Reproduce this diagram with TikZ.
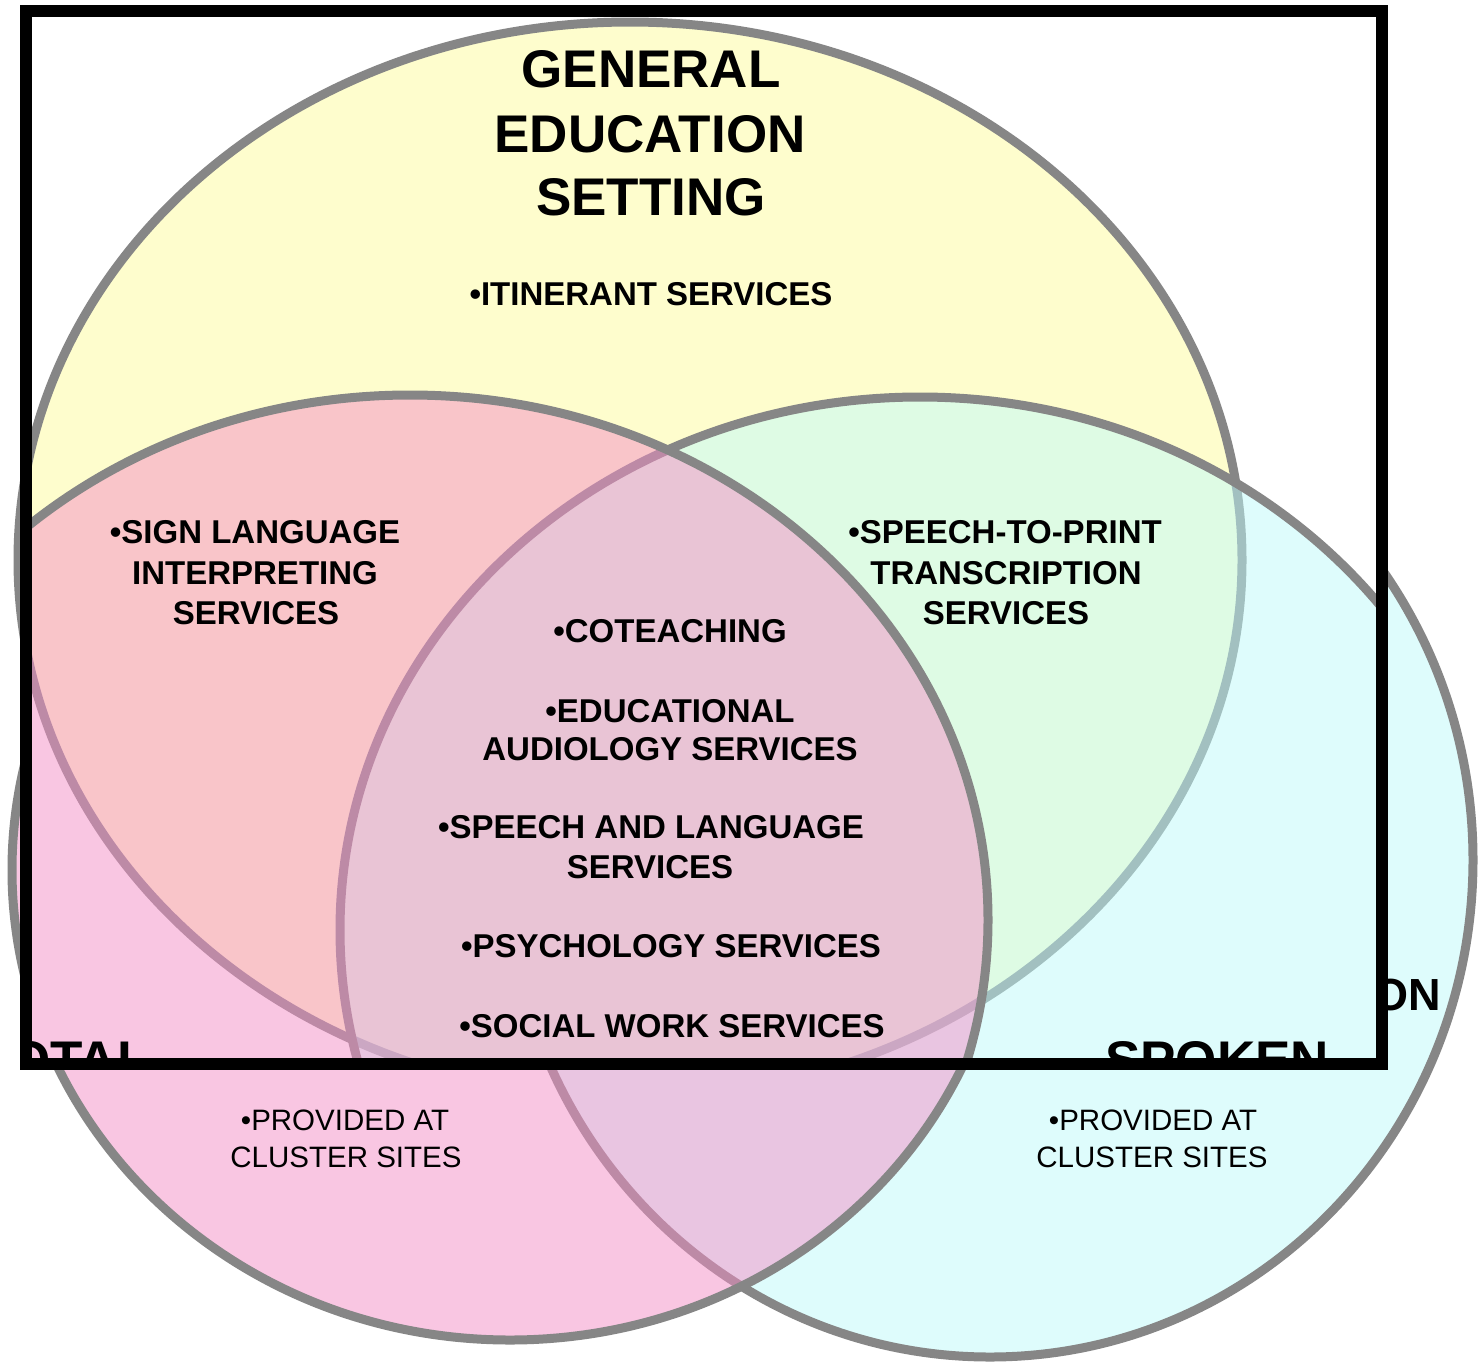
\documentclass[tikz,border=0pt]{standalone}
\usepackage{fontspec}
\setmainfont{Liberation Sans}
\definecolor{outl}{RGB}{134,134,134}
\definecolor{yel}{RGB}{254,253,205}
\definecolor{cyb}{RGB}{191,251,251}
\definecolor{pkb}{RGB}{245,143,199}
\tikzset{
  venn/.style={draw=outl, line width=9pt},
  yelset/.style={venn, fill=yel},
  cyanset/.style={venn, fill=cyb, fill opacity=0.5},
  pinkset/.style={venn, fill=pkb, fill opacity=0.5},
  titletext/.style={inner sep=0pt, anchor=base, font=\fontsize{53}{60}\selectfont\bfseries},
  itemtext/.style={inner sep=0pt, anchor=base, font=\fontsize{33}{40}\selectfont\bfseries},
  smalltext/.style={inner sep=0pt, anchor=base, font=\fontsize{29.5}{35}\selectfont},
  frameline/.style={draw=black, line width=12pt}
}
\begin{document}
\begin{tikzpicture}[x=1pt,y=-1pt]
\useasboundingbox (0,0) rectangle (1480,1361);
\fill[white] (0,0) rectangle (1480,1361);
% ---------- outer layer ----------
\path[cyanset] (990,860) ellipse [x radius=483pt, y radius=497pt];
\path[pinkset] (510,870) ellipse [x radius=498pt, y radius=470pt];
\node[smalltext] (pl1) at (345,1130) {•PROVIDED AT};
\node[smalltext] (pl2) at (346,1167) {CLUSTER SITES};
\node[smalltext] (pr1) at (1153,1130) {•PROVIDED AT};
\node[smalltext] (pr2) at (1152,1167) {CLUSTER SITES};
\node[inner sep=0pt, anchor=base east, font=\fontsize{45}{50}\selectfont\bfseries] (on) at (1441,1010) {ON};
% ---------- inner layer ----------
\begin{scope}
\clip (26,11) rectangle (1382,1064);
\fill[white] (26,11) rectangle (1382,1064);
\path[yelset] (630,560) ellipse [x radius=612pt, y radius=538pt];
\path[cyanset] (920,930) ellipse [x radius=580pt, y radius=533pt];
\path[pinkset] (410,920) ellipse [x radius=578pt, y radius=525pt];
\node[titletext] (t1) at (651,87) {GENERAL};
\node[titletext] (t2) at (650,152) {EDUCATION};
\node[titletext] (t3) at (651,215) {SETTING};
\node[itemtext] (itin) at (651,305) {•ITINERANT SERVICES};
\node[itemtext] (sl1) at (255,543) {•SIGN LANGUAGE};
\node[itemtext] (sl2) at (255,584) {INTERPRETING};
\node[itemtext] (sl3) at (256,624) {SERVICES};
\node[itemtext] (sp1) at (1005,543) {•SPEECH-TO-PRINT};
\node[itemtext] (sp2) at (1006,584) {TRANSCRIPTION};
\node[itemtext] (sp3) at (1006,624) {SERVICES};
\node[itemtext] (co) at (670,642) {•COTEACHING};
\node[itemtext] (ed1) at (670,722) {•EDUCATIONAL};
\node[itemtext] (ed2) at (670,760) {AUDIOLOGY SERVICES};
\node[itemtext] (sa1) at (651,838) {•SPEECH AND LANGUAGE};
\node[itemtext] (sa2) at (650,878) {SERVICES};
\node[itemtext] (ps) at (671,957) {•PSYCHOLOGY SERVICES};
\node[itemtext] (sw) at (672,1037) {•SOCIAL WORK SERVICES};
\node[titletext, anchor=base west] (tot) at (9,1078) {OTAL};
\node[titletext, anchor=base west] (spk) at (1105,1078) {SPOKEN};
\end{scope}
% yellow outline peeking out left of the frame
\begin{scope}
\clip (0,340) rectangle (26,720);
\draw[outl, line width=9pt] (630,560) ellipse [x radius=612pt, y radius=538pt];
\end{scope}
% ---------- frame ----------
\draw[frameline] (26,11) rectangle (1382,1064);
\end{tikzpicture}
\end{document}
